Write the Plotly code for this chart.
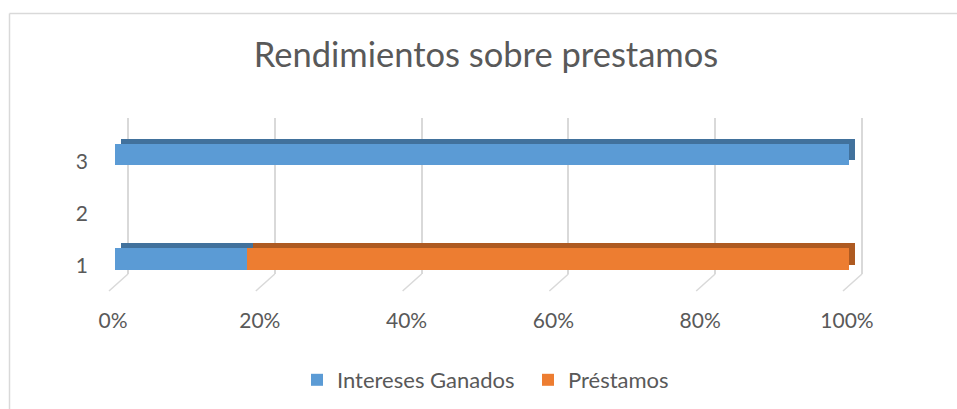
import plotly.graph_objects as go

# ---- data ----
categories = [1, 2, 3]
category_labels = ["1", "2", "3"]
intereses_ganados = [18, None, 100]
prestamos = [82, None, 0]
x_ticks = [0, 20, 40, 60, 80, 100]
x_tick_labels = ["0%", "20%", "40%", "60%", "80%", "100%"]
series_names = ["Intereses Ganados", "Préstamos"]
title_text = "Rendimientos sobre prestamos"

# ---- styling helpers ----
W, H = 957, 409


def px_x(p):
    return p / W


def px_y(p):
    return 1 - p / H


BLUE, ORANGE = "#5B9BD5", "#ED7D31"
BLUE_D, ORANGE_D = "#41719C", "#AE5A21"
GRID = "#D9D9D9"
TXT = "#595959"
FONT = "Lato"
BAR_W = 0.42

fig = go.Figure()

# 3D depth faces (drawn behind, offset up/right)
for vals, col in [(intereses_ganados, BLUE_D), (prestamos, ORANGE_D)]:
    fig.add_trace(go.Bar(
        y=categories, x=vals, orientation="h", width=BAR_W,
        marker=dict(color=col, line=dict(width=0)),
        xaxis="x2", yaxis="y2", showlegend=False, hoverinfo="skip"))

# front faces
for vals, col, name in [(intereses_ganados, BLUE, series_names[0]),
                        (prestamos, ORANGE, series_names[1])]:
    fig.add_trace(go.Bar(
        y=categories, x=vals, orientation="h", width=BAR_W, name=name,
        marker=dict(color=col, line=dict(width=0)),
        xaxis="x3", yaxis="y3"))

y_range = [0.3876, 3.6986]

# back wall: 0% at px 128, 100% at px 862, axis domain 100..877 px
back_ppu = (862 - 128) / 100
back_range = [-(128 - 100) / back_ppu, 100 + (877 - 862) / back_ppu]

hidden = dict(showgrid=False, showticklabels=False, zeroline=False,
              showline=False, ticks="", fixedrange=True)

fig.update_layout(
    width=W, height=H,
    margin=dict(l=0, r=0, t=0, b=0, autoexpand=False),
    paper_bgcolor="white", plot_bgcolor="rgba(0,0,0,0)",
    barmode="stack", barnorm="percent",
    font=dict(family=FONT, color=TXT, size=21),
    title=dict(text=title_text, x=486 / W, xanchor="center",
               y=px_y(55), yanchor="middle", xref="paper", yref="paper",
               font=dict(family=FONT, size=34.5, color=TXT)),
    # back wall gridlines
    xaxis=dict(domain=[px_x(100), px_x(877)], range=back_range,
               tickvals=x_ticks, showticklabels=False, ticks="",
               showgrid=True, gridcolor=GRID, gridwidth=1.5,
               zeroline=False, showline=False, anchor="y", fixedrange=True),
    yaxis=dict(domain=[px_y(274), px_y(118)], range=[0, 1], anchor="x",
               **hidden),
    # depth faces
    xaxis2=dict(domain=[px_x(121), px_x(855)], range=[0, 100],
                anchor="y2", **hidden),
    yaxis2=dict(domain=[px_y(286), px_y(113)], range=y_range,
                anchor="x2", **hidden),
    # front faces + labels
    xaxis3=dict(domain=[px_x(115), px_x(849)], range=[0, 100],
                anchor="y3",
                tickvals=x_ticks, ticktext=x_tick_labels,
                showgrid=False, zeroline=False, showline=False, ticks="",
                ticklabelstandoff=15, ticklabelshift=-2, fixedrange=True,
                tickfont=dict(family=FONT, size=21, color=TXT)),
    yaxis3=dict(domain=[px_y(291), px_y(118)], range=y_range,
                anchor="x3",
                tickvals=categories, ticktext=category_labels,
                showgrid=False, zeroline=False, showline=False, ticks="",
                ticklabelstandoff=26, ticklabelshift=7, fixedrange=True,
                tickfont=dict(family=FONT, size=21, color=TXT)),
    legend=dict(orientation="h", x=297 / W, xanchor="left",
                y=px_y(380), yanchor="middle", traceorder="normal",
                entrywidth=186, entrywidthmode="pixels",
                font=dict(family=FONT, size=22, color=TXT)),
    showlegend=True,
)

# floor lines from the back wall to the front edge
shapes = []
dx = 19 / back_ppu
for v in x_ticks:
    shapes.append(dict(type="line", xref="x", yref="paper", layer="below",
                       x0=v, x1=v - dx, y0=px_y(274), y1=px_y(291),
                       line=dict(color=GRID, width=1.5)))
# chart border (top and left edges; right/bottom fall outside the picture)
shapes.append(dict(type="line", xref="paper", yref="paper",
                   x0=px_x(9.5), x1=1, y0=px_y(13.5), y1=px_y(13.5),
                   line=dict(color=GRID, width=1.5)))
shapes.append(dict(type="line", xref="paper", yref="paper",
                   x0=px_x(9.5), x1=px_x(9.5), y0=0, y1=px_y(13.5),
                   line=dict(color=GRID, width=1.5)))
fig.update_layout(shapes=shapes)

fig.write_html("out.html", config={"displayModeBar": False},
               post_script="document.body.style.margin='0';")
